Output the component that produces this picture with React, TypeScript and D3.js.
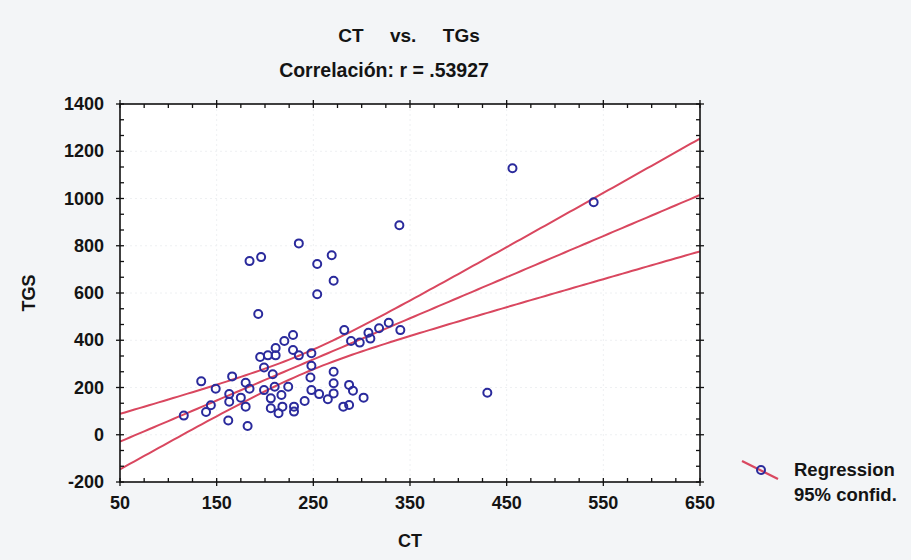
import React, { useEffect, useRef } from 'react';
import * as d3 from 'd3';

// CT (x) and TGS (y)
const ct = [
  116, 134, 139, 144, 149, 162, 163, 163, 166, 175, 180, 180, 182, 184, 193, 195, 199, 199,
  203, 208, 206, 206, 210, 211, 211, 214, 217, 218, 220, 224, 229, 229, 230, 230, 235, 241,
  248, 248, 247, 248, 256, 265, 271, 271, 271, 254, 271, 282, 281, 287, 287, 291, 289, 298,
  302, 307, 309, 318, 328, 340, 184, 196, 235, 254, 269, 339, 456, 540, 430,
];
const tgs = [
  81, 226, 96, 125, 195, 60, 172, 140, 247, 157, 220, 119, 37, 195, 511, 329, 285, 189,
  336, 256, 154, 112, 203, 367, 336, 91, 168, 119, 397, 203, 422, 359, 119, 98, 336, 143,
  345, 292, 242, 189, 172, 150, 267, 218, 175, 595, 652, 443, 119, 211, 126, 186, 397, 390,
  157, 432, 407, 451, 474, 443, 735, 752, 810, 723, 760, 887, 1128, 984, 178,
];

// regression line and 95% band half-width, read at the plot edges
const fitCT = [50, 650];
const fitTGS = [-29, 1015];
const bandHalf = [111, 242];

const xTicks = [50, 150, 250, 350, 450, 550, 650];
const yTicks = [-200, 0, 200, 400, 600, 800, 1000, 1200, 1400];
const titleText = 'CT     vs.     TGs';
const subtitleText = 'Correlación: r = .53927';
const legendLabels = ['Regression', '95% confid.'];

function App() {
  const svgRef = useRef(null);

  useEffect(() => {
    const W = 911;
    const H = 560;
    const margin = { top: 104, right: 211, bottom: 78, left: 120 };
    const font = '"Liberation Sans", Arial, sans-serif';
    const red = '#d9475f';
    const blue = '#2a2a9c';

    const svg = d3.select(svgRef.current).attr('width', W).attr('height', H);
    svg.selectAll('*').remove();

    svg.append('rect').attr('width', W).attr('height', H).attr('fill', '#f3f5f7');

    const x = d3.scaleLinear().domain([50, 650]).range([margin.left, W - margin.right]);
    const y = d3.scaleLinear().domain([-200, 1400]).range([H - margin.bottom, margin.top]);
    const [x0, x1] = x.range();
    const [y0, y1] = y.range();

    svg.append('rect')
      .attr('x', x0).attr('y', y1)
      .attr('width', x1 - x0).attr('height', y0 - y1)
      .attr('fill', '#ffffff');

    // faint grid
    const grid = svg.append('g').attr('stroke', '#eef0f2').attr('stroke-width', 1).attr('stroke-dasharray', '2,3');
    xTicks.slice(1, -1).forEach((v) => {
      grid.append('line').attr('x1', x(v)).attr('x2', x(v)).attr('y1', y1).attr('y2', y0);
    });
    yTicks.slice(1, -1).forEach((v) => {
      grid.append('line').attr('x1', x0).attr('x2', x1).attr('y1', y(v)).attr('y2', y(v));
    });

    // fitted line and confidence band (band shape from the CT spread)
    const n = ct.length;
    const mx = d3.mean(ct);
    const sxx = d3.sum(ct, (d) => (d - mx) ** 2);
    const g = (v) => Math.sqrt(1 / n + (v - mx) ** 2 / sxx);
    const k = d3.sum(fitCT, (v, i) => bandHalf[i] * g(v)) / d3.sum(fitCT, (v) => g(v) ** 2);
    const fit = d3.scaleLinear().domain(fitCT).range(fitTGS);

    const xs = d3.range(50, 650.01, 5);
    svg.append('clipPath').attr('id', 'plotclip')
      .append('rect').attr('x', x0).attr('y', y1).attr('width', x1 - x0).attr('height', y0 - y1);

    const line = d3.line().x((d) => x(d[0])).y((d) => y(d[1]));
    const fits = [
      xs.map((v) => [v, fit(v) + k * g(v)]),
      xs.map((v) => [v, fit(v)]),
      xs.map((v) => [v, fit(v) - k * g(v)]),
    ];
    svg.append('g')
      .attr('clip-path', 'url(#plotclip)')
      .selectAll('path')
      .data(fits)
      .enter()
      .append('path')
      .attr('d', line)
      .attr('fill', 'none')
      .attr('stroke', red)
      .attr('stroke-width', 2);

    // points
    svg.append('g')
      .selectAll('circle')
      .data(ct)
      .enter()
      .append('circle')
      .attr('cx', (d) => x(d))
      .attr('cy', (d, i) => y(tgs[i]))
      .attr('r', 4)
      .attr('fill', 'none')
      .attr('stroke', blue)
      .attr('stroke-width', 2);

    // frame and ticks
    svg.append('rect')
      .attr('x', x0).attr('y', y1)
      .attr('width', x1 - x0).attr('height', y0 - y1)
      .attr('fill', 'none').attr('stroke', '#111').attr('stroke-width', 1.6);

    const ticks = svg.append('g').attr('stroke', '#111').attr('stroke-width', 1.3);
    d3.range(50, 650.01, 25).forEach((v, i) => {
      const major = i % 4 === 0;
      const px = x(v);
      ticks.append('line').attr('x1', px).attr('x2', px).attr('y1', y0 + (major ? 4 : 0)).attr('y2', y0 - 4);
      ticks.append('line').attr('x1', px).attr('x2', px).attr('y1', y1 - (major ? 4 : 0)).attr('y2', y1 + 4);
    });
    d3.range(0, 25).forEach((i) => {
      const v = -200 + (i * 200) / 3;
      const major = i % 3 === 0;
      const py = y(v);
      ticks.append('line').attr('x1', x0 - (major ? 4 : 0)).attr('x2', x0 + 4).attr('y1', py).attr('y2', py);
      ticks.append('line').attr('x1', x1 + (major ? 4 : 0)).attr('x2', x1 - 4).attr('y1', py).attr('y2', py);
    });

    const text = (tx, ty, str, anchor = 'middle', size = 18) =>
      svg.append('text')
        .attr('x', tx).attr('y', ty)
        .attr('text-anchor', anchor)
        .attr('dominant-baseline', 'central')
        .attr('font-family', font)
        .attr('font-weight', 'bold')
        .attr('font-size', size)
        .attr('fill', '#141414')
        .style('white-space', 'pre')
        .text(str);

    xTicks.forEach((v) => text(x(v), y0 + 21, String(v)));
    yTicks.forEach((v) => text(x0 - 16, y(v), String(v), 'end'));

    text(409, 35, titleText, 'middle', 19);
    text(384, 70, subtitleText, 'middle', 19.5);
    text(x((50 + 650) / 2), 541, 'CT');
    text(29, (y0 + y1) / 2, 'TGS').attr('transform', `rotate(-90, 29, ${(y0 + y1) / 2})`);

    // legend
    svg.append('line')
      .attr('x1', 742).attr('y1', 461).attr('x2', 778).attr('y2', 479)
      .attr('stroke', red).attr('stroke-width', 2.2);
    svg.append('circle')
      .attr('cx', 761).attr('cy', 470).attr('r', 4)
      .attr('fill', 'none').attr('stroke', blue).attr('stroke-width', 2);
    text(794, 469, legendLabels[0], 'start', 18.5);
    text(794, 494, legendLabels[1], 'start', 18.5);
  }, []);

  return (
    <div style={{ position: 'absolute', left: 0, top: 0 }}>
      <svg ref={svgRef} style={{ display: 'block' }}></svg>
    </div>
  );
}

export default App;
